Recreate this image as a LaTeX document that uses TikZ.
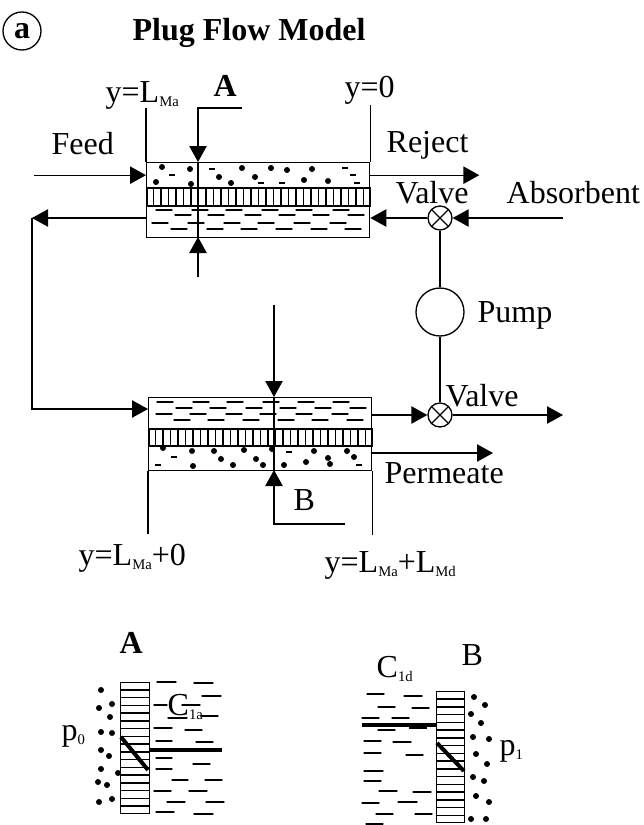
\documentclass[tikz,border=0pt]{standalone}
\usepackage{fontspec}
\setmainfont{Liberation Serif}
\usetikzlibrary{arrows.meta,positioning}
\newcommand{\lowtxt}[1]{\raisebox{-3.5pt}{\fontsize{11}{11}\selectfont #1}}
\begin{document}
\begin{tikzpicture}[x=0.75pt,y=-0.75pt,line width=1pt,
    lbl/.style={anchor=base west, inner sep=0pt, font=\fontsize{24}{24}\selectfont},
    boldlbl/.style={lbl, font=\fontsize{24}{24}\selectfont\bfseries},
    band/.style={draw, anchor=north west, minimum width=167.25pt, inner sep=0pt},
    flow/.style={-{Triangle[length=12pt,width=13pt]}},
    valve/.style={circle, draw, minimum size=18pt, inner sep=0pt, path picture={
        \draw (path picture bounding box.north west) -- (path picture bounding box.south east);
        \draw (path picture bounding box.north east) -- (path picture bounding box.south west);}},
    fleck/.style={line width=1pt, line cap=round},
    thickline/.style={line width=3pt},
    dot/.style={circle, fill, inner sep=0pt, minimum size=4.5pt}]
    \useasboundingbox (0,0) rectangle (643,825);

    % --- Title ---
    \node[circle, draw, minimum size=28.5pt, inner sep=0pt, font=\fontsize{24}{24}\selectfont\bfseries] (tag) at (22,31) {a};
    \node[boldlbl] (title) at (132,40) {Plug Flow Model};

    % --- Upper module ---
    \node[band, minimum height=18.75pt] (topDots) at (146,162) {};
    \node[band, minimum height=13.5pt, line width=1.6pt] (topMem) at (146,187) {};
    \node[band, minimum height=24pt] (topDash) at (146,205) {};
    \foreach \x in {153.5,161,168.5,176,183.5,191,198.5,206,213.5,221,228.5,236,243.5,251,258.5,266,273.5,281,288.5,296,303.5,311,318.5,326,333.5,341,348.5,356,363.5}
      \draw (\x,187) -- (\x,205);
    \foreach \x/\y in {156/210,192/210,226/210,262/210,296/210,333/210,175/215,208/215,245/215,279/215,313/215,348/215,152/223,188/223,224/223,258/223,294/223,330/223,171/229,207/229,241/229,276/229,311/229,345/229}
      \draw[fleck] (\x,\y) -- ++(16,0);
    \foreach \x/\y in {162/167,190/169,156/182,191/184,219/177,242/168,255/177,231/183,271/168,287/170,312/169,304/180,328/181}
      \node[dot] (topGrain) at (\x,\y) {};
    \foreach \x/\y in {172/175,212/169,261/183,282/183,345/168,353/175,357/183}
      \draw[line width=2pt] (\x-3,\y) -- ++(6,0);

    % --- Lower module ---
    \node[band, minimum height=23.25pt] (lowDash) at (148,397) {};
    \node[band, minimum height=12.75pt, line width=1.6pt] (lowMem) at (148,428) {};
    \node[band, minimum height=18.75pt] (lowDots) at (148,445) {};
    \foreach \x in {155.5,163,170.5,178,185.5,193,200.5,208,215.5,223,230.5,238,245.5,253,260.5,268,275.5,283,290.5,298,305.5,313,320.5,328,335.5,343,350.5,358,365.5}
      \draw (\x,428) -- (\x,445);
    \foreach \x/\y in {157/402,193/402,227/402,263/402,298/402,333/402,176/408,210/408,246/408,280/408,315/408,350/408,156/414,190/414,226/414,260/414,296/414,332/414,174/420,208/420,243/420,278/420,312/420,347/420}
      \draw[fleck] (\x,\y) -- ++(16,0);
    \foreach \x/\y in {163/448,192/451,193/466,214/451,221/459,233/465,244/450,256/459,263/465,272/449,284/465,306/462,314/451,328/458,330/464,347/451,354/457}
      \node[dot] (lowGrain) at (\x,\y) {};
    \foreach \x/\y in {174/457,158/465,289/452,359/465}
      \draw[line width=2pt] (\x-3,\y) -- ++(6,0);

    % --- Streams ---
    \node[valve] (valveTop) at (440,218) {};
    \node[valve] (valveLow) at (440,415) {};
    \node[circle, draw, minimum size=36pt, inner sep=0pt] (pump) at (440,312) {};
    \path (topDots.west) ++(-112,0) coordinate (feedIn);
    \path (topDots.east) ++(109,0) coordinate (rejectOut);
    \coordinate (absorbIn) at (563,218);
    \coordinate (loopTop) at (32,218);
    \coordinate (loopLow) at (32,409);
    \coordinate (valveOut) at (563,415);
    \coordinate (permOut) at (493,453);
    \draw[flow] (feedIn) -- (topDots.west);
    \draw[flow] (topDots.east) -- (rejectOut);
    \draw[flow] (absorbIn) -- (valveTop);
    \draw[flow] (valveTop) -- (topDash.east |- valveTop);
    \draw[flow] (topDash.west |- loopTop) -- (loopTop);
    \draw[flow] (loopTop) -- (loopLow) -- (lowDash.west |- loopLow);
    \draw (valveTop) -- (pump);
    \draw (pump) -- (valveLow);
    \draw[flow] (lowDash.east |- valveLow) -- (valveLow);
    \draw[flow] (valveLow) -- (valveOut);
    \draw[flow] (lowDots.east |- permOut) -- (permOut);

    % --- Section marks ---
    \coordinate (markA) at (242,108);
    \coordinate (markATurn) at (198,108);
    \coordinate (markATop) at (198,162);
    \coordinate (markABot) at (198,237);
    \coordinate (markAIn) at (198,277);
    \draw[flow] (markA) -- (markATurn) -- (markATop);
    \draw (markATop) -- (markABot);
    \draw[flow] (markAIn) -- (markABot);
    \coordinate (markBIn) at (274,305);
    \coordinate (markBTop) at (274,397);
    \coordinate (markBBot) at (274,470);
    \coordinate (markBTurn) at (274,524);
    \coordinate (markB) at (345,524);
    \draw[flow] (markBIn) -- (markBTop);
    \draw (markBTop) -- (markBBot);
    \draw[flow] (markB) -- (markBTurn) -- (markBBot);

    % --- Position ticks ---
    \path (topDots.north west) ++(0,-54) coordinate (tickTopL);
    \path (topDots.north east) ++(0,-57) coordinate (tickTopR);
    \path (lowDots.south west) ++(0,63) coordinate (tickLowL);
    \path (lowDots.south east) ++(0,64) coordinate (tickLowR);
    \draw (tickTopL) -- (topDots.north west);
    \draw (tickTopR) -- (topDots.north east);
    \draw (tickLowL) -- (lowDots.south west);
    \draw (tickLowR) -- (lowDots.south east);

    % --- Labels ---
    \node[lbl] (yMa) at (105,102) {y=L\lowtxt{Ma}};
    \node[lbl] (yZero) at (344,97) {y=0};
    \node[boldlbl] (secA) at (213,96) {A};
    \node[lbl] (feed) at (51,154) {Feed};
    \node[lbl] (reject) at (386,152) {Reject};
    \node[lbl] (valveA) at (395,203) {Valve};
    \node[lbl] (absorbent) at (506,203) {Absorbent};
    \node[lbl] (pumpTxt) at (477,322) {Pump};
    \node[lbl] (valveB) at (445,406) {Valve};
    \node[lbl] (permeate) at (384,483) {Permeate};
    \node[lbl] (secB) at (293,510) {B};
    \node[lbl] (yMaZero) at (78,565) {y=L\lowtxt{Ma}+0};
    \node[lbl] (yMaMd) at (324,572) {y=L\lowtxt{Ma}+L\lowtxt{Md}};

    % --- Detail A ---
    \node[boldlbl] (detailA) at (119,653) {A};
    \node[draw, anchor=north west, minimum width=21.75pt, minimum height=98.25pt, inner sep=0pt] (wallA) at (120,682) {};
    \foreach \y in {690,697.5,705.5,713,721,728.5,736.5,744,752,759.5,767.5,775,783,790.5,798.5,806}
      \draw (120,\y) -- (149,\y);
    \foreach \x/\xb/\y in {157/176/682,194/213/683,202/221/696,154/167/705,182/200/705,201/218/716,168/187/718,154/172/728,185/202/730,156/172/741,196/213/742,156/172/758,156/172/769,193/210/764,172/188/780,205/222/780,154/171/791,189/207/791,167/185/802,206/224/802,156/174/812,194/213/814}
      \draw[fleck] (\x,\y) -- (\xb,\y);
    \foreach \x/\y in {101/690,112/704,99/708,110/717,101/732,112/733,101/750,109/756,101/769,118/773,98/782,107/785,99/802,112/799}
      \node[dot] (grainA) at (\x,\y) {};
    \coordinate (levelA) at (222,750);
    \coordinate (slopeATop) at (121,737);
    \coordinate (slopeABot) at (148,770);
    \draw[thickline] (wallA.east |- levelA) -- (levelA);
    \draw[thickline] (slopeATop) -- (slopeABot);
    \node[lbl] (cA) at (167,715) {C\lowtxt{1a}};
    \node[lbl] (pA) at (61,740) {p\lowtxt{0}};

    % --- Detail B ---
    \node[lbl] (detailB) at (461,665) {B};
    \node[draw, anchor=north west, minimum width=21pt, minimum height=98.25pt, inner sep=0pt] (wallB) at (436,691) {};
    \foreach \y in {699,707,714.5,722.5,730,738,745.5,753.5,761,769,776.5,784.5,792,800,807.5,815.5}
      \draw (436,\y) -- (464,\y);
    \foreach \x/\xb/\y in {367/384/694,404/422/696,378/395/707,412/429/708,362/379/718,392/409/718,378/395/730,364/381/741,393/411/742,364/381/753,406/423/755,364/383/771,364/381/781,379/397/791,413/431/792,362/379/803,398/417/802,376/393/814,415/432/814,366/383/824}
      \draw[fleck] (\x,\y) -- (\xb,\y);
    \foreach \x/\y in {474/697,485/705,471/714,481/723,473/737,489/739,476/754,487/764,473/777,484/781,476/796,489/802,471/819,486/819}
      \node[dot] (grainB) at (\x,\y) {};
    \coordinate (levelB) at (362,725);
    \coordinate (slopeBTop) at (437,743);
    \coordinate (slopeBBot) at (464,771);
    \draw[thickline] (levelB) -- (wallB.west |- levelB);
    \draw[thickline] (409,727) -- (427,727);
    \draw[thickline] (slopeBTop) -- (slopeBBot);
    \node[lbl] (cB) at (376,677) {C\lowtxt{1d}};
    \node[lbl] (pB) at (499,755) {p\lowtxt{1}};
  \end{tikzpicture}
\end{document}
